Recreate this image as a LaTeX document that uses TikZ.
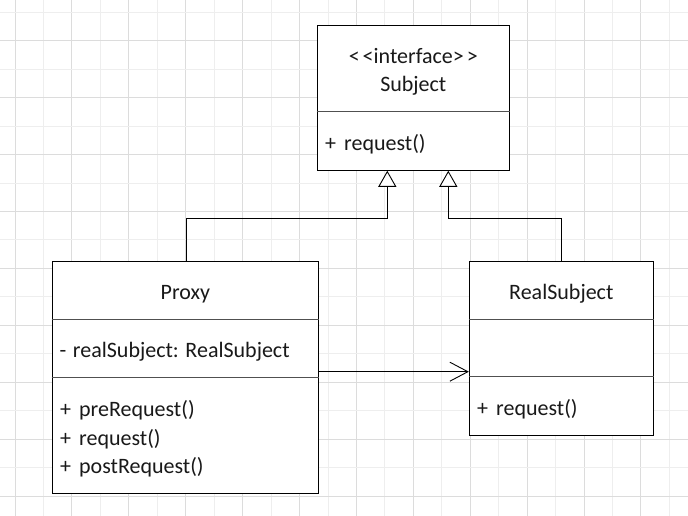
\documentclass[tikz,border=0pt]{standalone}
\usepackage{fontspec}
\setmainfont{Carlito}
\usetikzlibrary{arrows.meta,calc}
\definecolor{gridminor}{HTML}{EEEEEE}
\definecolor{gridmajor}{HTML}{DCDCDC}
\definecolor{divcol}{HTML}{505050}
\tikzset{
  umlbox/.style={draw=black, line width=0.9pt, fill=white, rectangle, inner sep=0pt},
  divider/.style={draw=divcol, line width=1.3pt},
  lbl/.style={font=\fontsize{22}{25}\selectfont, anchor=base, inner sep=0pt, text=black!90},
  member/.style={lbl, anchor=base west},
  inherit/.style={draw=black, line width=0.9pt, -{Triangle[open, length=16pt, width=18pt, fill=white]}},
  assoc/.style={draw=black, line width=0.9pt, -{Straight Barb[length=18pt, width=19pt, line width=0.9pt]}}
}
\begin{document}
\begin{tikzpicture}[x=1pt,y=-1pt]
\useasboundingbox (0,0) rectangle (688,516);
\fill[white] (0,0) rectangle (688,516);
% grid
\foreach \i in {0,...,24} {
  \pgfmathsetmacro\gx{15+28.45*\i}
  \pgfmathtruncatemacro\odd{mod(\i,2)}
  \ifnum\odd=0
    \draw[gridmajor, line width=0.9pt] (\gx,0) -- (\gx,516);
  \else
    \draw[gridminor, line width=0.9pt] (\gx,0) -- (\gx,516);
  \fi
}
\foreach \j in {0,...,18} {
  \pgfmathsetmacro\gy{12.3+28.45*\j}
  \pgfmathtruncatemacro\odd{mod(\j,2)}
  \ifnum\odd=1
    \draw[gridmajor, line width=0.9pt] (0,\gy) -- (688,\gy);
  \else
    \draw[gridminor, line width=0.9pt] (0,\gy) -- (688,\gy);
  \fi
}
% Subject
\node[umlbox, minimum width=192pt, minimum height=145.3pt] (subject) at (413.3,97.65) {};
\draw[divider] ($(subject.north west)+(0,87.3)$) -- ($(subject.north east)+(0,87.3)$);
\node[lbl] (subjst) at (413.3,64) {<\kern3pt<interface>\kern3pt>};
\node[lbl] (subjname) at (413.3,92) {Subject};
\node[member] (subjop) at (325,150.5) {+\kern8pt request()};
% Proxy
\node[umlbox, minimum width=266.7pt, minimum height=231.6pt] (proxy) at (185.35,377.5) {};
\draw[divider] ($(proxy.north west)+(0,58.3)$) -- ($(proxy.north east)+(0,58.3)$);
\draw[divider] ($(proxy.north west)+(0,116.3)$) -- ($(proxy.north east)+(0,116.3)$);
\node[lbl] (proxyname) at (185.35,299) {Proxy};
\node[member] (proxyattr) at (59.5,357.5) {-\kern6.5pt realSubject: RealSubject};
\node[member] (proxyop1) at (60,416.5) {+\kern8pt preRequest()};
\node[member] (proxyop2) at (60,445) {+\kern8pt request()};
\node[member] (proxyop3) at (60,473.5) {+\kern8pt postRequest()};
% RealSubject
\node[umlbox, minimum width=184pt, minimum height=173.3pt] (realsub) at (561.3,348.35) {};
\draw[divider] ($(realsub.north west)+(0,58.3)$) -- ($(realsub.north east)+(0,58.3)$);
\draw[divider] ($(realsub.north west)+(0,115.3)$) -- ($(realsub.north east)+(0,115.3)$);
\node[lbl] (realname) at (561.3,299) {RealSubject};
\node[member] (realop) at (477,415.5) {+\kern8pt request()};
% connectors
\draw[inherit] ($(proxy.north)+(1.3,0)$) |- (387.3,218.5) -- (subject.south -| 387.3,0);
\draw[inherit] (realsub.north) |- (448.3,218.5) -- (subject.south -| 448.3,0);
\draw[assoc] (proxy.east |- 0,371.7) -- (realsub.west |- 0,371.7);
\end{tikzpicture}
\end{document}
